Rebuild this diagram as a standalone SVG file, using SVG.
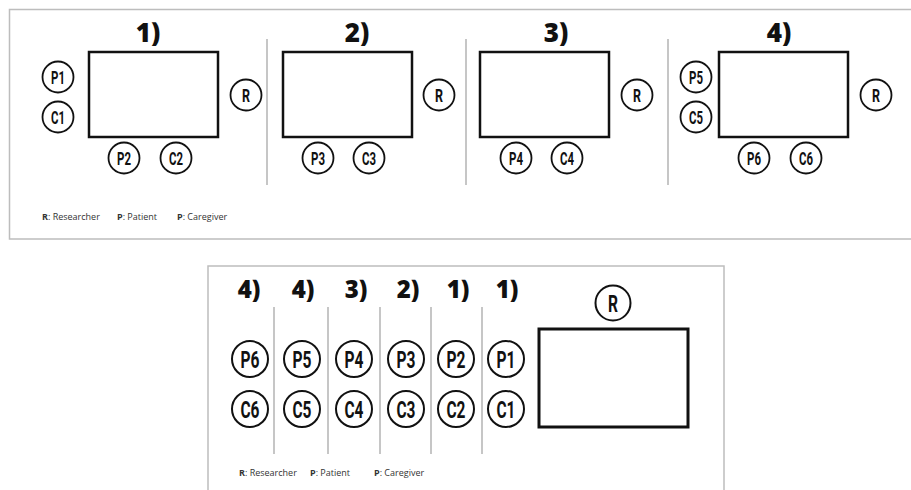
<svg xmlns="http://www.w3.org/2000/svg" width="911" height="490" viewBox="0 0 911 490">
<style>
.frame{fill:none;stroke:#bdbdbd;stroke-width:1.5}
.div{stroke:#a8a8a8;stroke-width:1.3}
.tbl{fill:#fff;stroke:#111;stroke-width:2.5}
.tbl2{fill:#fff;stroke:#111;stroke-width:3}
.seat{fill:#fff;stroke:#111;stroke-width:1.8}
.seat2{fill:#fff;stroke:#111;stroke-width:2}
.lbl{font-family:Roboto,"Liberation Sans",sans-serif;font-weight:bold;font-size:19px;fill:#111;text-anchor:middle}
.lbl2{font-family:Roboto,"Liberation Sans",sans-serif;font-weight:bold;font-size:23px;fill:#111;text-anchor:middle}
.ttl{font-family:"Open Sans","Liberation Sans",sans-serif;font-weight:800;font-size:26px;fill:#111;text-anchor:middle}
.ttl2{font-family:"Open Sans","Liberation Sans",sans-serif;font-weight:800;font-size:24px;fill:#111;text-anchor:middle}
.leg{font-family:"Open Sans","Liberation Sans",sans-serif;font-size:9px;fill:#333}
.legb{font-weight:bold}
</style>
<rect id="frame-top" class="frame" x="9.5" y="9.5" width="910" height="229.5"/>
<rect id="frame-bottom" class="frame" x="208" y="266" width="516" height="240"/>

<g id="dividers">
<line class="div" x1="267" y1="39" x2="267" y2="185"/>
<line class="div" x1="466" y1="39" x2="466" y2="185"/>
<line class="div" x1="668" y1="39" x2="668" y2="185"/>
<line class="div" x1="274" y1="307" x2="274" y2="454"/>
<line class="div" x1="328" y1="307" x2="328" y2="454"/>
<line class="div" x1="380" y1="307" x2="380" y2="454"/>
<line class="div" x1="431" y1="307" x2="431" y2="454"/>
<line class="div" x1="482" y1="307" x2="482" y2="454"/>
</g>

<g id="panel1">
<text class="ttl" x="148" y="42">1)</text>
<rect class="tbl" x="89" y="52" width="129" height="85"/>
<g id="p1-P1"><circle class="seat" cx="58" cy="77" r="15.5"/><text class="lbl" x="58" y="84" textLength="14" lengthAdjust="spacingAndGlyphs">P1</text></g>
<g id="p1-C1"><circle class="seat" cx="58" cy="117" r="15.5"/><text class="lbl" x="58" y="124" textLength="14" lengthAdjust="spacingAndGlyphs">C1</text></g>
<g id="p1-R"><circle class="seat" cx="246" cy="95" r="15.5"/><text class="lbl" x="246" y="102" textLength="8" lengthAdjust="spacingAndGlyphs">R</text></g>
<g id="p1-P2"><circle class="seat" cx="124" cy="158" r="15.5"/><text class="lbl" x="124" y="165" textLength="14" lengthAdjust="spacingAndGlyphs">P2</text></g>
<g id="p1-C2"><circle class="seat" cx="176" cy="158" r="15.5"/><text class="lbl" x="176" y="165" textLength="14" lengthAdjust="spacingAndGlyphs">C2</text></g>
</g>

<g id="panel2">
<text class="ttl" x="357" y="42">2)</text>
<rect class="tbl" x="283" y="52" width="129" height="85"/>
<g id="p2-R"><circle class="seat" cx="439" cy="95" r="15.5"/><text class="lbl" x="439" y="102" textLength="8" lengthAdjust="spacingAndGlyphs">R</text></g>
<g id="p2-P3"><circle class="seat" cx="318" cy="158" r="15.5"/><text class="lbl" x="318" y="165" textLength="14" lengthAdjust="spacingAndGlyphs">P3</text></g>
<g id="p2-C3"><circle class="seat" cx="369" cy="158" r="15.5"/><text class="lbl" x="369" y="165" textLength="14" lengthAdjust="spacingAndGlyphs">C3</text></g>
</g>

<g id="panel3">
<text class="ttl" x="556" y="42">3)</text>
<rect class="tbl" x="480" y="52" width="129" height="85"/>
<g id="p3-R"><circle class="seat" cx="637" cy="95" r="15.5"/><text class="lbl" x="637" y="102" textLength="8" lengthAdjust="spacingAndGlyphs">R</text></g>
<g id="p3-P4"><circle class="seat" cx="516" cy="158" r="15.5"/><text class="lbl" x="516" y="165" textLength="14" lengthAdjust="spacingAndGlyphs">P4</text></g>
<g id="p3-C4"><circle class="seat" cx="567" cy="158" r="15.5"/><text class="lbl" x="567" y="165" textLength="14" lengthAdjust="spacingAndGlyphs">C4</text></g>
</g>

<g id="panel4">
<text class="ttl" x="779" y="42">4)</text>
<rect class="tbl" x="719" y="52" width="129" height="85"/>
<g id="p4-P5"><circle class="seat" cx="696" cy="77" r="15.5"/><text class="lbl" x="696" y="84" textLength="14" lengthAdjust="spacingAndGlyphs">P5</text></g>
<g id="p4-C5"><circle class="seat" cx="696" cy="117" r="15.5"/><text class="lbl" x="696" y="124" textLength="14" lengthAdjust="spacingAndGlyphs">C5</text></g>
<g id="p4-R"><circle class="seat" cx="876" cy="95" r="15.5"/><text class="lbl" x="876" y="102" textLength="8" lengthAdjust="spacingAndGlyphs">R</text></g>
<g id="p4-P6"><circle class="seat" cx="754" cy="158" r="15.5"/><text class="lbl" x="754" y="165" textLength="14" lengthAdjust="spacingAndGlyphs">P6</text></g>
<g id="p4-C6"><circle class="seat" cx="806" cy="158" r="15.5"/><text class="lbl" x="806" y="165" textLength="14" lengthAdjust="spacingAndGlyphs">C6</text></g>
</g>

<g id="legend-top">
<text class="leg" x="42" y="220"><tspan class="legb">R</tspan>: Researcher</text>
<text class="leg" x="117" y="220"><tspan class="legb">P</tspan>: Patient</text>
<text class="leg" x="177" y="220"><tspan class="legb">P</tspan>: Caregiver</text>
</g>

<g id="panel-bottom">
<text class="ttl2" x="249" y="298">4)</text>
<text class="ttl2" x="303" y="298">4)</text>
<text class="ttl2" x="356" y="298">3)</text>
<text class="ttl2" x="408" y="298">2)</text>
<text class="ttl2" x="458" y="298">1)</text>
<text class="ttl2" x="507" y="298">1)</text>
<rect class="tbl2" x="539" y="329" width="149" height="98"/>
<g id="b-R"><circle class="seat2" cx="613" cy="303" r="17.5"/><text class="lbl2" x="613" y="311.5" textLength="10" lengthAdjust="spacingAndGlyphs">R</text></g>
<g id="b-P6"><circle class="seat2" cx="250" cy="359" r="18"/><text class="lbl2" x="250" y="367.5" textLength="19" lengthAdjust="spacingAndGlyphs">P6</text></g>
<g id="b-C6"><circle class="seat2" cx="250" cy="409" r="18"/><text class="lbl2" x="250" y="417.5" textLength="19" lengthAdjust="spacingAndGlyphs">C6</text></g>
<g id="b-P5"><circle class="seat2" cx="302" cy="359" r="18"/><text class="lbl2" x="302" y="367.5" textLength="19" lengthAdjust="spacingAndGlyphs">P5</text></g>
<g id="b-C5"><circle class="seat2" cx="302" cy="409" r="18"/><text class="lbl2" x="302" y="417.5" textLength="19" lengthAdjust="spacingAndGlyphs">C5</text></g>
<g id="b-P4"><circle class="seat2" cx="354" cy="359" r="18"/><text class="lbl2" x="354" y="367.5" textLength="19" lengthAdjust="spacingAndGlyphs">P4</text></g>
<g id="b-C4"><circle class="seat2" cx="354" cy="409" r="18"/><text class="lbl2" x="354" y="417.5" textLength="19" lengthAdjust="spacingAndGlyphs">C4</text></g>
<g id="b-P3"><circle class="seat2" cx="406" cy="359" r="18"/><text class="lbl2" x="406" y="367.5" textLength="19" lengthAdjust="spacingAndGlyphs">P3</text></g>
<g id="b-C3"><circle class="seat2" cx="406" cy="409" r="18"/><text class="lbl2" x="406" y="417.5" textLength="19" lengthAdjust="spacingAndGlyphs">C3</text></g>
<g id="b-P2"><circle class="seat2" cx="456" cy="359" r="18"/><text class="lbl2" x="456" y="367.5" textLength="19" lengthAdjust="spacingAndGlyphs">P2</text></g>
<g id="b-C2"><circle class="seat2" cx="456" cy="409" r="18"/><text class="lbl2" x="456" y="417.5" textLength="19" lengthAdjust="spacingAndGlyphs">C2</text></g>
<g id="b-P1"><circle class="seat2" cx="506" cy="359" r="18"/><text class="lbl2" x="506" y="367.5" textLength="19" lengthAdjust="spacingAndGlyphs">P1</text></g>
<g id="b-C1"><circle class="seat2" cx="506" cy="409" r="18"/><text class="lbl2" x="506" y="417.5" textLength="19" lengthAdjust="spacingAndGlyphs">C1</text></g>
</g>

<g id="legend-bottom">
<text class="leg" x="239" y="476"><tspan class="legb">R</tspan>: Researcher</text>
<text class="leg" x="310" y="476"><tspan class="legb">P</tspan>: Patient</text>
<text class="leg" x="374" y="476"><tspan class="legb">P</tspan>: Caregiver</text>
</g>
</svg>
